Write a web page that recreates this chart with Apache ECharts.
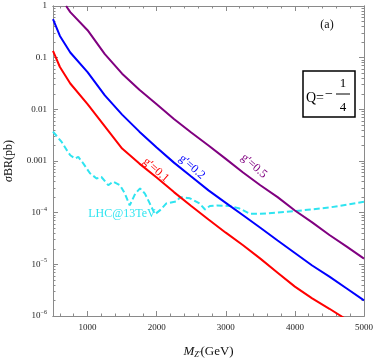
<!DOCTYPE html>
<html>
<head>
<meta charset="utf-8">
<script src="https://cdn.jsdelivr.net/npm/echarts@6/dist/echarts.min.js"></script>
<style>
  html, body { margin: 0; padding: 0; background: #fff; }
  #chart { width: 374px; height: 359px; }
</style>
</head>
<body>
<div id="chart"></div>
<script>
  // values (pb), mass in GeV
  const massRed = [500, 600, 750, 1000, 1250, 1500, 1750, 2000, 2250, 2500, 2750, 3000, 3250, 3500, 3750, 4000, 4250, 4500, 4750]
  const sigmaRed = [0.135, 0.066, 0.0316, 0.0126, 0.0047, 0.00174, 8.9e-4, 4.8e-4, 2.5e-4, 1.35e-4, 7.4e-5, 4.1e-5, 2.34e-5, 1.29e-5, 6.9e-6, 3.7e-6, 2.19e-6, 1.38e-6, 8.5e-7]

  const massBlue = [500, 600, 750, 1000, 1250, 1500, 1750, 2000, 2250, 2500, 2750, 3000, 3250, 3500, 3750, 4000, 4250, 4500, 4750, 5000]
  const sigmaBlue = [0.56, 0.263, 0.126, 0.0525, 0.0186, 0.0079, 0.0037, 0.00182, 9.3e-4, 5.0e-4, 2.7e-4, 1.55e-4, 8.9e-5, 5.1e-5, 2.9e-5, 1.66e-5, 9.5e-6, 5.8e-6, 3.4e-6, 2.0e-6]

  const massPurple = [690, 750, 1000, 1250, 1500, 1750, 2000, 2250, 2500, 2750, 3000, 3250, 3500, 3750, 4000, 4250, 4500, 4750, 5000]
  const sigmaPurple = [1.0, 0.76, 0.34, 0.117, 0.049, 0.024, 0.0126, 0.0065, 0.00355, 0.0020, 0.0011, 6.0e-4, 3.4e-4, 2.0e-4, 1.1e-4, 6.5e-5, 3.7e-5, 2.2e-5, 1.29e-5]

  const massLhc = [500, 625, 700, 750, 820, 866, 940, 1035, 1130, 1200, 1300, 1370, 1470, 1540, 1610, 1690, 1760, 1830, 1900, 1975, 2050, 2140, 2290, 2340, 2480, 2620, 2700, 2770, 2870, 3060, 3200, 3350, 3500, 4000, 4500, 5000]
  const sigmaLhc = [0.0037, 0.00234, 0.00162, 0.00129, 0.00112, 0.0012, 8.9e-4, 5.8e-4, 4.6e-4, 4.9e-4, 3.4e-4, 4.0e-4, 3.4e-4, 2.34e-4, 1.38e-4, 2.34e-4, 2.95e-4, 2.34e-4, 1.51e-4, 9.3e-5, 1.12e-4, 1.51e-4, 1.66e-4, 2.0e-4, 1.9e-4, 1.51e-4, 1.15e-4, 1.35e-4, 1.38e-4, 1.35e-4, 1.2e-4, 9.5e-5, 9.5e-5, 1.07e-4, 1.26e-4, 1.62e-4]

  const xTicks = [1000, 2000, 3000, 4000, 5000]
  const xMinorTicks = [600, 800, 1200, 1400, 1600, 1800, 2200, 2400, 2600, 2800, 3200, 3400, 3600, 3800, 4200, 4400, 4600, 4800]
  const yTicks = [1e-6, 1e-5, 1e-4, 1e-3, 0.01, 0.1, 1]
  const yDecimalLabels = ['1', '0.1', '0.01', '0.001']

  const yMinorTicks = []
  yTicks.slice(0, -1).forEach(d => {
    for (let k = 2; k <= 9; k++) yMinorTicks.push(+(k * d).toPrecision(3))
  })

  const FONT = '"Liberation Serif", "DejaVu Serif", serif'
  const AXIS_COLOR = '#8a8a8a'

  const pairs = (xs, ys) => xs.map((x, i) => [x, ys[i]])

  function xAxisOf(position, ticks, len, showLabel) {
    return {
      type: 'value',
      position: position,
      min: 500,
      max: 5000,
      name: showLabel ? '{it|M}{sub|Z\u2032}(GeV)' : '',
      nameLocation: 'middle',
      nameGap: 29,
      nameTextStyle: {
        fontFamily: FONT,
        fontSize: 13,
        color: '#111',
        rich: {
          it: { fontFamily: FONT, fontStyle: 'italic', fontSize: 13, color: '#111' },
          sub: { fontFamily: FONT, fontStyle: 'italic', fontSize: 8, color: '#111', padding: [6, 0, 0, 0] }
        }
      },
      axisLine: { show: true, onZero: false, lineStyle: { color: AXIS_COLOR, width: 1 } },
      axisTick: { show: true, inside: true, length: len, customValues: ticks, lineStyle: { color: AXIS_COLOR } },
      axisLabel: {
        show: showLabel,
        customValues: ticks,
        margin: 7,
        fontFamily: FONT,
        fontSize: 9,
        color: '#222',
        formatter(v) {
          return String(v)
        }
      },
      splitLine: { show: false }
    }
  }

  function yAxisOf(position, ticks, len, showLabel) {
    return {
      type: 'log',
      logBase: 10,
      position: position,
      min: 1e-6,
      max: 1,
      interval: ticks ? undefined : 1,
      name: showLabel ? '{it|\u03c3}BR(pb)' : '',
      nameLocation: 'middle',
      nameGap: 38,
      nameTextStyle: {
        fontFamily: FONT,
        fontSize: 12,
        color: '#111',
        rich: {
          it: { fontFamily: FONT, fontStyle: 'italic', fontSize: 12, color: '#111' }
        }
      },
      axisLine: { show: true, onZero: false, lineStyle: { color: AXIS_COLOR, width: 1 } },
      axisTick: ticks
        ? { show: true, inside: true, length: len, customValues: ticks, lineStyle: { color: AXIS_COLOR } }
        : { show: true, inside: true, length: len, lineStyle: { color: AXIS_COLOR } },
      axisLabel: {
        show: showLabel,
        margin: 6,
        fontFamily: FONT,
        fontSize: 9,
        color: '#222',
        formatter(v) {
          const e = Math.round(Math.log10(v))
          if (e >= -3) return yDecimalLabels[-e]
          return '10{sup|\u2212' + (-e) + '}'
        },
        rich: {
          sup: { fontFamily: FONT, fontSize: 6, color: '#222', padding: [0, 0, 7, 0] }
        }
      },
      splitLine: { show: false }
    }
  }

  const chart = echarts.init(document.getElementById('chart'))
  chart.setOption({
    backgroundColor: '#fff',
    animation: false,
    grid: { left: 53, right: 10, top: 6, bottom: 43, containLabel: false, outerBoundsMode: 'none' },
    xAxis: [
      xAxisOf('bottom', xTicks, 5, true),
      xAxisOf('bottom', xMinorTicks, 2.5, false),
      xAxisOf('top', xTicks, 5, false),
      xAxisOf('top', xMinorTicks, 2.5, false)
    ],
    yAxis: [
      yAxisOf('left', null, 5, true),
      yAxisOf('left', yMinorTicks, 2.5, false),
      yAxisOf('right', null, 5, false),
      yAxisOf('right', yMinorTicks, 2.5, false)
    ],
    series: [{
      name: 'LHC@13TeV',
      type: 'line',
      symbol: 'none',
      lineStyle: { color: '#2fe4f0', width: 2, type: [6, 3] },
      data: pairs(massLhc, sigmaLhc)
    }, {
      name: "g'=0.1",
      type: 'line',
      symbol: 'none',
      lineStyle: { color: '#ff0000', width: 2 },
      data: pairs(massRed, sigmaRed)
    }, {
      name: "g'=0.2",
      type: 'line',
      symbol: 'none',
      lineStyle: { color: '#0000ff', width: 2 },
      data: pairs(massBlue, sigmaBlue)
    }, {
      name: "g'=0.5",
      type: 'line',
      symbol: 'none',
      lineStyle: { color: '#800080', width: 2 },
      data: pairs(massPurple, sigmaPurple)
    }],
    graphic: [
      { type: 'text', x: 156, y: 170, rotation: -0.72, style: { text: 'g\u2032=0.1', fill: '#ff0000', font: '12px ' + FONT, align: 'center', verticalAlign: 'middle' } },
      { type: 'text', x: 192, y: 167, rotation: -0.72, style: { text: 'g\u2032=0.2', fill: '#0000ff', font: '12px ' + FONT, align: 'center', verticalAlign: 'middle' } },
      { type: 'text', x: 254, y: 166, rotation: -0.72, style: { text: 'g\u2032=0.5', fill: '#800080', font: '12px ' + FONT, align: 'center', verticalAlign: 'middle' } },
      { type: 'text', x: 122, y: 214, style: { text: 'LHC@13TeV', fill: '#2fe4f0', font: '12px ' + FONT, align: 'center', verticalAlign: 'middle' } },
      { type: 'text', x: 327, y: 25, style: { text: '(a)', fill: '#111', font: '12px ' + FONT, align: 'center', verticalAlign: 'middle' } },
      { type: 'rect', shape: { x: 303, y: 71, width: 52, height: 46 }, style: { fill: '#fff', stroke: '#000', lineWidth: 1.5 } },
      { type: 'text', x: 306, y: 98, style: { text: 'Q=', fill: '#000', font: '14px ' + FONT, verticalAlign: 'middle' } },
      { type: 'text', x: 325, y: 94, style: { text: '\u2212', fill: '#000', font: '14px ' + FONT, verticalAlign: 'middle' } },
      { type: 'text', x: 343, y: 84, style: { text: '1', fill: '#000', font: '13px ' + FONT, align: 'center', verticalAlign: 'middle' } },
      { type: 'line', shape: { x1: 336, y1: 94, x2: 350, y2: 94 }, style: { stroke: '#000', lineWidth: 1 } },
      { type: 'text', x: 343, y: 108, style: { text: '4', fill: '#000', font: '13px ' + FONT, align: 'center', verticalAlign: 'middle' } }
    ]
  })
</script>
</body>
</html>
